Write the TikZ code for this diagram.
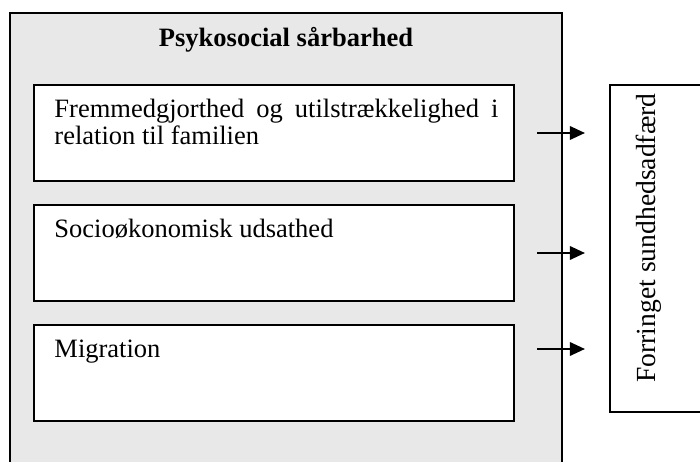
\documentclass[tikz,border=0pt]{standalone}
\usepackage{fontspec}
\setmainfont{Liberation Serif}
\usetikzlibrary{arrows.meta}
\definecolor{panelgray}{RGB}{232,232,232}
\begin{document}
\begin{tikzpicture}[x=0.4527pt,y=-0.4527pt,
  box/.style={draw=black,line width=1.1pt},
  lbl/.style={anchor=base west,inner sep=0pt,align=left,font=\fontsize{12}{12.2}\selectfont},
  arr/.style={line width=1.1pt,-{Triangle[length=6.8pt,width=6pt]}}]
 \useasboundingbox (0,0) rectangle (700,462);
 % panel
 \fill[panelgray] (10,13) rectangle (562,475);
 \draw[box] (10,475)--(10,13)--(562,13)--(562,475);
 \node[anchor=base,inner sep=0pt,font=\bfseries\fontsize{12}{14}\selectfont] (title) at (286,47) {Psykosocial sårbarhed};
 % factors
 \draw[box,fill=white] (34,85) rectangle (514,181);
 \draw[box,fill=white] (34,205) rectangle (514,301);
 \draw[box,fill=white] (34,325) rectangle (514,421);
 \node[lbl,align=justify,text width=201pt] (fam) at (54,118) {Fremmedgjorthed og utilstrækkelighed i relation til familien};
 \node[lbl] (soc) at (54,238) {Socioøkonomisk udsathed};
 \node[lbl] (mig) at (54,358) {Migration};
 % outcome
 \draw[box,fill=white] (710,85)--(610,85)--(610,412)--(710,412);
 \node[rotate=90,anchor=base,inner sep=0pt,font=\fontsize{12.5}{14}\selectfont] (out) at (655,238) {Forringet sundhedsadfærd};
 % arrows
 \coordinate (f1) at (537,133); \coordinate (t1) at (585,133);
 \coordinate (f2) at (537,253); \coordinate (t2) at (585,253);
 \coordinate (f3) at (537,349); \coordinate (t3) at (585,349);
 \draw[arr] (f1)--(t1); \draw[arr] (f2)--(t2); \draw[arr] (f3)--(t3);
\end{tikzpicture}
\end{document}
